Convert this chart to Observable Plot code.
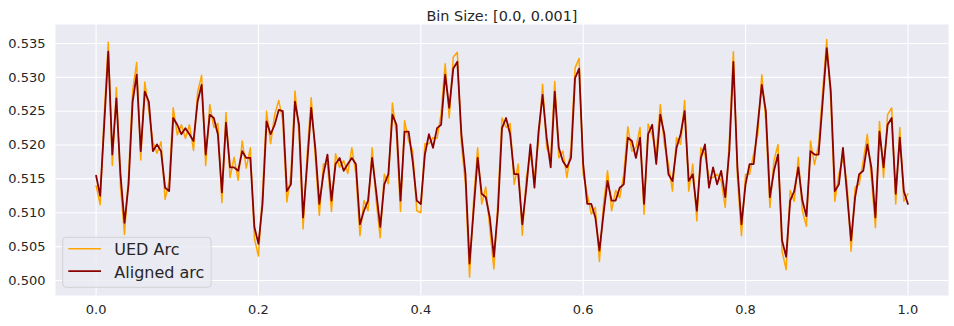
<!DOCTYPE html>
<html>
<head>
<meta charset="utf-8">
<script src="https://cdn.jsdelivr.net/npm/d3@7"></script>
<script src="https://cdn.jsdelivr.net/npm/@observablehq/plot@0.6"></script>
<style>
  html, body { margin: 0; padding: 0; background: white; }
  #wrap { position: relative; width: 954px; height: 326px; font-family: "DejaVu Sans", sans-serif; }
  #legend { position: absolute; left: 0; top: 0; pointer-events: none; }
</style>
</head>
<body>
<div id="wrap"></div>
<script>
const titleText = "Bin Size: [0.0, 0.001]";
const seriesNames = ["UED Arc", "Aligned arc"];
const xStep = 0.005;
const xTicks = [0.0, 0.2, 0.4, 0.6, 0.8, 1.0];
const yTicks = [0.500, 0.505, 0.510, 0.515, 0.520, 0.525, 0.530, 0.535];

// Aligned arc (dark red), one value per 0.005 step from 0.0 to 1.0
const alignedArc = [
  0.5155,0.5125,0.5230,0.5338,0.5186,0.5269,0.5157,0.5085,0.5142,0.5264,
  0.5304,0.5191,0.5279,0.5264,0.5191,0.5201,0.5191,0.5137,0.5132,0.5240,
  0.5230,0.5216,0.5225,0.5216,0.5206,0.5264,0.5289,0.5186,0.5245,0.5240,
  0.5216,0.5130,0.5233,0.5167,0.5167,0.5162,0.5191,0.5181,0.5181,0.5079,
  0.5054,0.5113,0.5235,0.5216,0.5230,0.5252,0.5250,0.5132,0.5142,0.5264,
  0.5230,0.5093,0.5172,0.5255,0.5196,0.5113,0.5157,0.5186,0.5118,0.5172,
  0.5181,0.5162,0.5172,0.5181,0.5172,0.5083,0.5103,0.5118,0.5181,0.5132,
  0.5079,0.5142,0.5157,0.5245,0.5230,0.5118,0.5220,0.5220,0.5176,0.5118,
  0.5113,0.5186,0.5216,0.5196,0.5225,0.5230,0.5304,0.5255,0.5313,0.5323,
  0.5216,0.5157,0.5025,0.5103,0.5181,0.5128,0.5123,0.5093,0.5035,0.5103,
  0.5225,0.5240,0.5216,0.5157,0.5157,0.5083,0.5137,0.5201,0.5137,0.5220,
  0.5274,0.5211,0.5167,0.5279,0.5196,0.5176,0.5167,0.5181,0.5299,0.5313,
  0.5172,0.5113,0.5113,0.5093,0.5044,0.5098,0.5147,0.5118,0.5118,0.5137,
  0.5142,0.5211,0.5206,0.5181,0.5211,0.5113,0.5216,0.5230,0.5172,0.5245,
  0.5216,0.5157,0.5147,0.5196,0.5216,0.5250,0.5147,0.5157,0.5103,0.5181,
  0.5201,0.5137,0.5167,0.5142,0.5162,0.5123,0.5191,0.5323,0.5167,0.5083,
  0.5142,0.5172,0.5172,0.5230,0.5289,0.5250,0.5123,0.5162,0.5186,0.5059,
  0.5035,0.5118,0.5132,0.5167,0.5118,0.5095,0.5191,0.5186,0.5186,0.5264,
  0.5343,0.5280,0.5132,0.5142,0.5196,0.5128,0.5059,0.5123,0.5157,0.5162,
  0.5201,0.5167,0.5093,0.5220,0.5167,0.5230,0.5240,0.5128,0.5211,0.5132,
  0.5113
];

// UED Arc (orange)
const uedArc = [
  0.5140,0.5112,0.5245,0.5352,0.5170,0.5285,0.5140,0.5068,0.5155,0.5280,
  0.5322,0.5178,0.5293,0.5250,0.5205,0.5188,0.5205,0.5120,0.5146,0.5255,
  0.5215,0.5230,0.5210,0.5230,0.5192,0.5278,0.5303,0.5170,0.5260,0.5226,
  0.5232,0.5115,0.5248,0.5152,0.5182,0.5148,0.5206,0.5166,0.5196,0.5062,
  0.5036,0.5128,0.5250,0.5202,0.5245,0.5266,0.5236,0.5116,0.5157,0.5280,
  0.5216,0.5076,0.5187,0.5270,0.5182,0.5096,0.5172,0.5172,0.5102,0.5187,
  0.5167,0.5177,0.5158,0.5196,0.5158,0.5066,0.5118,0.5103,0.5196,0.5118,
  0.5063,0.5157,0.5143,0.5262,0.5216,0.5102,0.5236,0.5206,0.5192,0.5103,
  0.5100,0.5202,0.5202,0.5211,0.5210,0.5246,0.5320,0.5240,0.5330,0.5337,
  0.5202,0.5142,0.5005,0.5118,0.5196,0.5113,0.5138,0.5077,0.5017,0.5118,
  0.5240,0.5226,0.5232,0.5142,0.5172,0.5067,0.5152,0.5186,0.5152,0.5206,
  0.5290,0.5196,0.5182,0.5294,0.5181,0.5191,0.5152,0.5196,0.5314,0.5328,
  0.5157,0.5128,0.5098,0.5108,0.5028,0.5112,0.5162,0.5103,0.5133,0.5122,
  0.5157,0.5227,0.5191,0.5196,0.5226,0.5098,0.5231,0.5215,0.5187,0.5260,
  0.5201,0.5172,0.5132,0.5211,0.5201,0.5266,0.5132,0.5172,0.5088,0.5196,
  0.5186,0.5152,0.5152,0.5157,0.5147,0.5108,0.5206,0.5338,0.5152,0.5066,
  0.5157,0.5157,0.5187,0.5215,0.5304,0.5235,0.5108,0.5177,0.5201,0.5043,
  0.5016,0.5133,0.5117,0.5182,0.5103,0.5080,0.5206,0.5171,0.5201,0.5279,
  0.5356,0.5265,0.5117,0.5157,0.5181,0.5143,0.5043,0.5138,0.5142,0.5177,
  0.5216,0.5152,0.5078,0.5235,0.5152,0.5245,0.5255,0.5113,0.5226,0.5117,
  0.5128
];

const colors = ["orange", "darkred"];
const xs = alignedArc.map((_, i) => +(i * xStep).toFixed(3));

const chart = Plot.plot({
  width: 954,
  height: 326,
  marginLeft: 55,
  marginRight: 6,
  marginTop: 24,
  marginBottom: 31,
  style: { fontFamily: "DejaVu Sans, sans-serif", fontSize: "13px", color: "#262626", background: "white" },
  x: { domain: [-0.05, 1.05], ticks: xTicks, tickFormat: d3.format(".1f"), label: null, tickSize: 0, tickPadding: 9 },
  y: { domain: [0.49778, 0.53781], ticks: yTicks, tickFormat: d3.format(".3f"), label: null, tickSize: 0, tickPadding: 10 },
  marks: [
    Plot.frame({ fill: "#EAEAF2", stroke: "none" }),
    Plot.gridX(xTicks, { stroke: "white", strokeOpacity: 1, strokeWidth: 1.1 }),
    Plot.gridY(yTicks, { stroke: "white", strokeOpacity: 1, strokeWidth: 1.1 }),
    Plot.line(uedArc, { x: (d, i) => xs[i], y: d => d, stroke: colors[0], strokeWidth: 1.5 }),
    Plot.line(alignedArc, { x: (d, i) => xs[i], y: d => d, stroke: colors[1], strokeWidth: 1.8 }),
    Plot.text([titleText], { frameAnchor: "top", lineAnchor: "bottom", dy: -4, fontSize: 14.4, fill: "#262626" })
  ]
});

const wrap = document.getElementById("wrap");
wrap.appendChild(chart);

// legend overlay
const ns = "http://www.w3.org/2000/svg";
const lg = document.createElementNS(ns, "svg");
lg.setAttribute("id", "legend");
lg.setAttribute("width", 954);
lg.setAttribute("height", 326);
const box = document.createElementNS(ns, "rect");
box.setAttribute("x", 62.7); box.setAttribute("y", 237.3);
box.setAttribute("width", 148.4); box.setAttribute("height", 50);
box.setAttribute("rx", 3.5);
box.setAttribute("fill", "#EAEAF2"); box.setAttribute("fill-opacity", 0.8);
box.setAttribute("stroke", "#CCCCCC"); box.setAttribute("stroke-opacity", 0.8);
box.setAttribute("stroke-width", 1);
lg.appendChild(box);
const rowsY = [248.7, 271.2];
seriesNames.forEach((name, i) => {
  const ln = document.createElementNS(ns, "line");
  ln.setAttribute("x1", 68.3); ln.setAttribute("x2", 101);
  ln.setAttribute("y1", rowsY[i]); ln.setAttribute("y2", rowsY[i]);
  ln.setAttribute("stroke", colors[i]); ln.setAttribute("stroke-width", i ? 1.8 : 1.5);
  lg.appendChild(ln);
  const t = document.createElementNS(ns, "text");
  t.setAttribute("x", 114.3); t.setAttribute("y", rowsY[i] + 6.5);
  t.setAttribute("font-size", 16);
  t.setAttribute("font-family", "DejaVu Sans, sans-serif");
  t.setAttribute("fill", "#262626");
  t.textContent = name;
  lg.appendChild(t);
});
wrap.appendChild(lg);
</script>
</body>
</html>
